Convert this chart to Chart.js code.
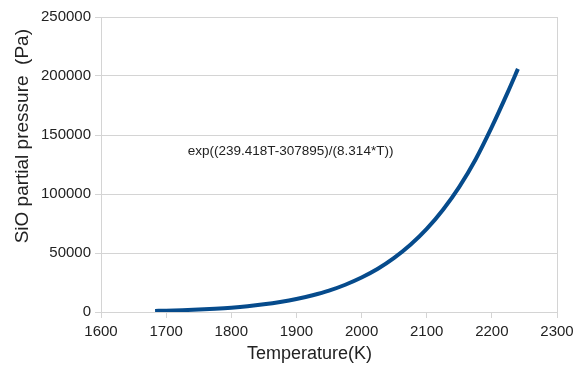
<!DOCTYPE html>
<html>
<head>
<meta charset="utf-8">
<script src="https://cdn.jsdelivr.net/npm/chart.js@4"></script>
<style>
  html, body { margin: 0; padding: 0; background: #fff; }
  #graphic { display: block; }
</style>
</head>
<body>
<canvas id="graphic" width="574" height="366"></canvas>
<script>
const temperatures = [1683, 1700, 1725, 1750, 1775, 1800, 1825, 1850, 1875, 1900, 1925, 1950,
  1975, 2000, 2025, 2050, 2075, 2100, 2125, 2150, 2175, 2200, 2225, 2240];
const pressures = [900, 1100, 1500, 2100, 2800, 3700, 4900, 6500, 8500, 11000, 14200, 18100,
  23100, 29200, 36600, 45800, 56900, 70400, 86700, 106100, 129300, 156900, 187000, 206000];
const xTicks = [1600, 1700, 1800, 1900, 2000, 2100, 2200, 2300];
const yTicks = [0, 50000, 100000, 150000, 200000, 250000];
const formulaLabel = 'exp((239.418T-307895)/(8.314*T))';
const xTitle = 'Temperature(K)';
const yTitle = 'SiO partial pressure  (Pa)';

const gridColor = '#d4d4d4';
const font = 'Liberation Sans, Arial, sans-serif';

// axis titles and the formula are drawn by hand so they sit where the original has them
const labels = {
  id: 'labels',
  afterDraw(chart) {
    const { ctx } = chart;
    const x = chart.scales.x;
    const y = chart.scales.y;
    ctx.save();
    ctx.fillStyle = '#222';
    ctx.textAlign = 'center';
    ctx.textBaseline = 'middle';

    ctx.font = `13.5px ${font}`;
    ctx.fillText(formulaLabel, x.getPixelForValue(1891), y.getPixelForValue(136500));

    ctx.font = `18px ${font}`;
    ctx.fillText(xTitle, x.getPixelForValue(1920), 354);

    ctx.font = `19px ${font}`;
    ctx.translate(23, y.getPixelForValue(149000));
    ctx.rotate(-Math.PI / 2);
    ctx.fillText(yTitle, 0, 0);
    ctx.restore();
  },
};

const ctx = document.querySelector('#graphic').getContext('2d');
const graphic = new Chart(ctx, {
  type: 'line',
  data: {
    datasets: [{
      data: temperatures.map((t, i) => ({ x: t, y: pressures[i] })),
      borderColor: '#064b8c',
      borderWidth: 4,
      borderCapStyle: 'butt',
      pointRadius: 0,
      fill: false,
      cubicInterpolationMode: 'monotone',
    }],
  },
  options: {
    responsive: false,
    animation: false,
    layout: { padding: { top: 17, right: 17, bottom: 0, left: 0 } },
    plugins: { legend: { display: false }, tooltip: { enabled: false } },
    scales: {
      x: {
        type: 'linear',
        min: 1600,
        max: 2300,
        afterBuildTicks: (scale) => { scale.ticks = xTicks.map((v) => ({ value: v })); },
        afterFit: (scale) => {
          scale.height = 54;
          scale.paddingLeft = 0;
          scale.paddingRight = 0;
        },
        border: { color: gridColor },
        grid: {
          color: (c) => ((c.index === 0 || c.index === xTicks.length - 1) ? gridColor : 'transparent'),
          tickColor: gridColor,
          tickLength: 6,
        },
        ticks: {
          color: '#222', font: { family: font, size: 15 }, padding: 5, maxRotation: 0,
          callback: (v) => String(v),
        },
      },
      y: {
        min: 0,
        max: 250000,
        afterBuildTicks: (scale) => { scale.ticks = yTicks.map((v) => ({ value: v })); },
        afterFit: (scale) => {
          scale.width = 101;
          scale.paddingTop = 0;
          scale.paddingBottom = 0;
        },
        border: { color: gridColor },
        grid: { color: gridColor, tickLength: 6 },
        ticks: {
          color: '#222', font: { family: font, size: 15 }, padding: 4,
          callback: (v) => String(v),
        },
      },
    },
  },
  plugins: [labels],
});
graphic.render();
</script>
</body>
</html>
